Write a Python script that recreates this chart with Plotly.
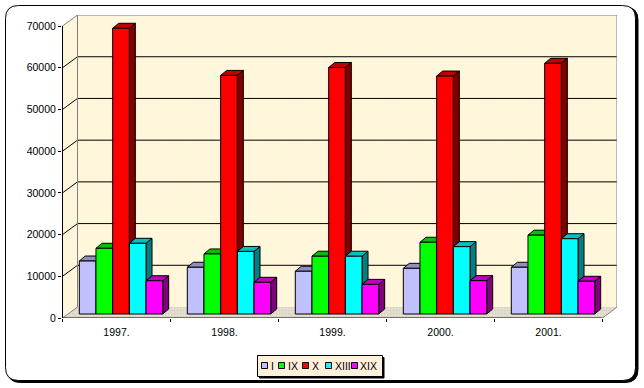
import plotly.graph_objects as go

categories = ["1997.", "1998.", "1999.", "2000.", "2001."]
series_names = ["I", "IX", "X", "XIII", "XIX"]
s_I = [12700, 11200, 10250, 10950, 11200]
s_IX = [15750, 14400, 13850, 17200, 18900]
s_X = [68500, 57200, 59100, 57050, 60100]
s_XIII = [16950, 15000, 13850, 16150, 18050]
s_XIX = [7980, 7600, 7100, 8000, 7840]
series_values = [s_I, s_IX, s_X, s_XIII, s_XIX]
front_colors = ["#C0C0FF", "#00FF00", "#FF0000", "#00FFFF", "#FF00FF"]
top_colors = ["#9090C0", "#00C000", "#C00000", "#00C0C0", "#C000C0"]
side_colors = ["#606080", "#008000", "#800000", "#008080", "#800080"]
y_ticks = [0, 10000, 20000, 30000, 40000, 50000, 60000, 70000]

W, H = 644, 388
L, R, T, B = 62, 617, 15, 318
PX_CAT = 108.0
PX_VAL = 239.75          # value units per pixel
FONT = "Liberation Sans"

def X(px):
    return (px - 62.5) / PX_CAT
def Y(py):
    return (318 - py) * PX_VAL
def PX(px):
    return (px - L) / (R - L)
def PY(py):
    return (B - py) / (B - T)

xr = [X(L), X(R)]
yr = [0, Y(T)]
wall_dx = 15 / PX_CAT
wall_dy = 11 * PX_VAL
n = len(categories)
ymax = y_ticks[-1]

fig = go.Figure()

def poly(xs, ys, bg, fg, line=None):
    fig.add_trace(go.Scatter(
        x=xs, y=ys, mode="lines", fill="toself", hoverinfo="skip", showlegend=False,
        fillcolor=bg, fillpattern=dict(shape=".", size=3, solidity=0.25, fgcolor=fg, bgcolor=bg, fillmode="replace"),
        line=dict(color=line or "rgba(0,0,0,0)", width=1),
    ))

# left wall, back wall, floor
poly([0, wall_dx, wall_dx, 0, 0], [0, wall_dy, ymax + wall_dy, ymax, 0], "#FFF9D8", "#FFF0EA")
poly([wall_dx, xr[1], xr[1], wall_dx, wall_dx], [wall_dy, wall_dy, ymax + wall_dy, ymax + wall_dy, wall_dy], "#FFF9D8", "#FFF0EA")
poly([0, wall_dx, xr[1], n, 0], [0, wall_dy, wall_dy, 0, 0], "#E4DECE", "#D6D0C2")

# gridlines on the walls
gx, gy = [], []
for v in y_ticks[1:-1]:
    gx += [0, wall_dx, xr[1], None]
    gy += [v, v + wall_dy, v + wall_dy, None]
fig.add_trace(go.Scatter(x=gx, y=gy, mode="lines", line=dict(color="#000000", width=1),
                         hoverinfo="skip", showlegend=False))
# wall outline
fig.add_trace(go.Scatter(
    x=[0, wall_dx, xr[1], xr[1], n, None, wall_dx, wall_dx, None, 0, wall_dx],
    y=[ymax, ymax + wall_dy, ymax + wall_dy, wall_dy, 0, None, ymax + wall_dy, wall_dy, None, 0, wall_dy],
    mode="lines", line=dict(color="#808080", width=1), hoverinfo="skip", showlegend=False))
# front axis lines
fig.add_trace(go.Scatter(x=[0, 0, n], y=[ymax, 0, 0], mode="lines", line=dict(color="#000000", width=1),
                         hoverinfo="skip", showlegend=False))

# bar geometry
group = 83.4 / PX_CAT
shift = 0.5417
bw = group / len(series_names)
base = 4 * PX_VAL
dx = 6 / PX_CAT
dy = 5 * PX_VAL

# depth faces, computed from the values
for k, vals in enumerate(series_values):
    sx, sy, tx, ty = [], [], [], []
    for i, v in enumerate(vals):
        left = i + shift - group / 2 + k * bw
        right = left + bw
        top = base + v
        sx += [right, right + dx, right + dx, right, right, None]
        sy += [base, base + dy, top + dy, top, base, None]
        tx += [left, left + dx, right + dx, right, left, None]
        ty += [top, top + dy, top + dy, top, top, None]
    fig.add_trace(go.Scatter(x=sx, y=sy, mode="lines", fill="toself", fillcolor=side_colors[k],
                             line=dict(color="#000000", width=1), hoverinfo="skip", showlegend=False))
    fig.add_trace(go.Scatter(x=tx, y=ty, mode="lines", fill="toself", fillcolor=top_colors[k],
                             line=dict(color="#000000", width=1), hoverinfo="skip", showlegend=False))

# front faces, on an overlaid axis pair so that they sit above the depth faces
for k, vals in enumerate(series_values):
    fig.add_trace(go.Bar(
        x=[i + shift for i in range(n)], y=vals, base=base, name=series_names[k],
        marker=dict(color=front_colors[k], line=dict(color="#000000", width=1)),
        xaxis="x2", yaxis="y2", showlegend=False,
    ))

shapes = []
def rrect(x0, y0, x1, y1, r):
    a, b, c, d = PX(x0), PX(x1), PY(y0), PY(y1)
    rx = r / (R - L)
    ry = r / (B - T)
    return (f"M{a+rx},{c} L{b-rx},{c} Q{b},{c} {b},{c-ry} L{b},{d+ry} Q{b},{d} {b-rx},{d} "
            f"L{a+rx},{d} Q{a},{d} {a},{d+ry} L{a},{c-ry} Q{a},{c} {a+rx},{c} Z")

shapes.append(dict(type="path", xref="paper", yref="paper", layer="below", path=rrect(7.5, 7, 638, 382.5, 13),
                   fillcolor="#000000", line=dict(color="#000000", width=1)))
shapes.append(dict(type="path", xref="paper", yref="paper", layer="below", path=rrect(5.5, 5.5, 635.5, 380.5, 13),
                   fillcolor="#FFFFFF", line=dict(color="#000000", width=1)))

def box(x0, y0, x1, y1, fill, line="#000000", layer="above"):
    shapes.append(dict(type="rect", xref="paper", yref="paper", layer=layer,
                       x0=PX(x0), x1=PX(x1), y0=PY(y1), y1=PY(y0),
                       fillcolor=fill, line=dict(color=line, width=1)))

# legend
box(259.5, 357.5, 384, 378, "#000000")
box(257.5, 355.5, 382.5, 376.5, "#FFF0DC")
swatch_x = [261.5, 278.5, 302.5, 325.5, 351.5]
text_x = [270.5, 287.5, 311.5, 334.5, 360.5]
annotations = []
for name, c, sx, tx in zip(series_names, front_colors, swatch_x, text_x):
    box(sx, 362.5, sx + 6, 368.5, c)
    annotations.append(dict(xref="paper", yref="paper", x=PX(tx), y=PY(365.5), text=name, showarrow=False,
                            xanchor="left", yanchor="middle", font=dict(family=FONT, size=10.5, color="#000000"),
                            borderpad=0, borderwidth=0))

fig.update_layout(
    width=W, height=H, margin=dict(l=L, r=W - R, t=T, b=H - B, pad=0),
    paper_bgcolor="#FFFFFF", plot_bgcolor="rgba(0,0,0,0)",
    barmode="group", bargap=1 - group, bargroupgap=0,
    showlegend=False, shapes=shapes, annotations=annotations,
    font=dict(family=FONT, size=10.5, color="#000000"),
    xaxis=dict(range=xr, tickmode="array", tickvals=[i + 0.5 for i in range(n)], ticktext=categories,
               ticks="", ticklen=0, ticklabelstandoff=6, showgrid=False, zeroline=False, showline=False,
               tickfont=dict(family=FONT, size=10.5, color="#000000"),
               minor=dict(tickmode="array", tickvals=list(range(n + 1)), ticks="outside", ticklen=3,
                          tickcolor="#000000", tickwidth=1, showgrid=False)),
    yaxis=dict(range=yr, tickmode="array", tickvals=y_ticks, ticktext=[str(v) for v in y_ticks],
               ticks="outside", ticklen=3, tickcolor="#000000", tickwidth=1,
               showgrid=False, zeroline=False, showline=False,
               tickfont=dict(family=FONT, size=10.5, color="#000000")),
    xaxis2=dict(range=xr, overlaying="x", visible=False),
    yaxis2=dict(range=yr, overlaying="y", visible=False),
)

fig.write_html("out.html", config={"displayModeBar": False},
               post_script="document.body.style.margin='0';document.body.style.overflow='hidden';")
